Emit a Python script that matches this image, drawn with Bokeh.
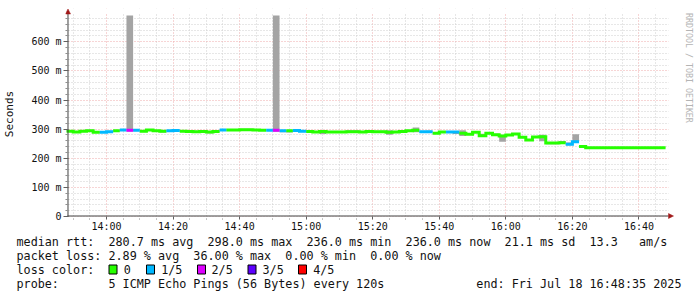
import math
from bokeh.plotting import figure
from bokeh.layouts import column, row
from bokeh.models import Range1d, FixedTicker
from bokeh.core.properties import value
from bokeh.embed import file_html
from bokeh.resources import INLINE

# ---------------- data ----------------
# x axis: minutes after midnight
range_start_min = 13 * 60 + 48 + 35 / 60.0   # 13:48:35
range_end_min = 16 * 60 + 48 + 35 / 60.0     # 16:48:35
x_tick_minutes = [840, 860, 880, 900, 920, 940, 960, 980, 1000]
x_tick_labels = ["14:00", "14:20", "14:40", "15:00", "15:20",
                 "15:40", "16:00", "16:20", "16:40"]
x_minor_minutes = [830, 835, 845, 850, 855, 865, 870, 875, 885, 890, 895,
                   905, 910, 915, 925, 930, 935, 945, 950, 955, 965, 970,
                   975, 985, 990, 995, 1005]
y_ticks = [0, 100, 200, 300, 400, 500, 600]
y_tick_labels = ["0", "100 m", "200 m", "300 m", "400 m", "500 m", "600 m"]
y_minor = [20, 40, 60, 80, 120, 140, 160, 180, 220, 240, 260, 280, 320, 340,
           360, 380, 420, 440, 460, 480, 520, 540, 560, 580, 620, 640, 660, 680]
y_top_ms = 697

first_step_min = 13 * 60 + 48    # first 2-minute step starts at 13:48
step_min = 2

median_ms = [293, 290, 293, 294, 289, 289, 291, 294, 297, 296,
             296, 293, 297, 294, 293, 294, 295, 293, 292, 291,
             292, 290, 292, 297, 297, 297, 298, 298, 297, 296,
             296, 296, 294, 294, 295, 293, 292, 290, 292, 290,
             290, 290, 291, 291, 290, 292, 291, 291, 289, 290,
             292, 294, 296, 291, 291, 286, 290, 290, 290, 286,
             282, 289, 277, 286, 281, 276, 280, 283, 272, 263,
             273, 274, 252, 252, 253, 248, 257, 240, 236, 236,
             236, 236, 236, 236, 236, 236, 236, 236, 236, 236]

loss_count = [0, 0, 0, 0, 0, 1, 1, 0, 1, 2,
              1, 0, 0, 0, 0, 1, 1, 0, 0, 0,
              0, 0, 0, 1, 0, 0, 0, 0, 0, 0,
              1, 2, 1, 0, 1, 1, 0, 0, 0, 0,
              0, 0, 0, 0, 0, 0, 0, 0, 0, 0,
              0, 0, 0, 1, 1, 0, 0, 1, 1, 0,
              0, 0, 0, 0, 0, 0, 0, 0, 0, 0,
              0, 0, 0, 0, 0, 1, 1, 0, 0, 0,
              0, 0, 0, 0, 0, 0, 0, 0, 0, 0]

smoke_lo = [291, 288, 291, 291, 287, 287, 289, 292, 295, 292,
            294, 291, 295, 292, 288, 292, 293, 291, 290, 289,
            288, 285, 290, 295, 295, 295, 296, 296, 295, 294,
            294, 291, 289, 288, 293, 291, 290, 288, 283, 288,
            288, 288, 289, 289, 288, 287, 289, 289, 281, 288,
            290, 292, 289, 288, 289, 284, 288, 288, 283, 276,
            280, 287, 274, 284, 276, 257, 276, 281, 270, 259,
            271, 258, 248, 248, 252, 245, 255, 238, 235, 235,
            235, 235, 235, 235, 235, 235, 235, 235, 235, 235]

smoke_hi = [296, 293, 296, 298, 292, 292, 294, 297, 300, 690,
            299, 296, 300, 297, 295, 297, 298, 296, 295, 294,
            296, 293, 295, 300, 300, 300, 301, 301, 300, 299,
            299, 690, 296, 296, 298, 296, 295, 293, 294, 293,
            293, 293, 296, 296, 293, 294, 294, 294, 296, 293,
            295, 297, 306, 293, 294, 289, 293, 293, 292, 296,
            285, 292, 284, 289, 284, 281, 283, 286, 275, 266,
            276, 281, 255, 255, 259, 254, 282, 243, 238, 238,
            238, 238, 238, 238, 238, 237, 237, 237, 237, 237]

loss_labels = ["0", "1/5", "2/5", "3/5", "4/5"]
loss_colors = ["#26ff00", "#00b8ff", "#dd00ff", "#5e00ff", "#ff0000"]

legend_line1 = ("median rtt:  280.7 ms avg  298.0 ms max  236.0 ms min  "
                "236.0 ms now  21.1 ms sd  13.3   am/s")
legend_line2 = "packet loss: 2.89 % avg  36.00 % max  0.00 % min  0.00 % now"
legend_line3 = "loss color:"
legend_line4 = "probe:       5 ICMP Echo Pings (56 Bytes) every 120s"
legend_end = "end: Fri Jul 18 16:48:35 2025"
watermark = "RRDTOOL / TOBI OETIKER"

# ---------------- layout constants (pixels) ----------------
W, H = 697, 297
TOP_H = 236            # height of the chart row
WM_W = 21              # watermark strip at the right
MAIN_W = W - WM_W
F_LEFT, F_RIGHT = 64, 674      # frame in canvas px (data area 67..667)
F_TOP, F_BOT = 8, 219          # frame in canvas px (data area 13..216)
AX_X, AX_Y = 67, 216           # where the time start / zero value sit
PXM = 600.0 / (range_end_min - range_start_min)     # px per minute
PXY = (AX_Y - 13) / float(y_top_ms)                 # px per ms

X_START = range_start_min - (AX_X - F_LEFT) / PXM
X_END = range_end_min + (F_RIGHT - (AX_X + 600)) / PXM
Y_START = -(F_BOT - AX_Y) / PXY
Y_END = (AX_Y - F_TOP) / PXY

MONO = "DejaVu Sans Mono"
TXT = "#111111"
AXIS_COL = "#404040"
ARROW_COL = "#a01818"
NBSP = "\u00a0"


def keep_spaces(s):
    return s.replace(" ", NBSP)


def dx(px):
    return X_START + (px - F_LEFT) / PXM


def dy(py):
    return Y_START + (F_BOT - py) / PXY


# ---------------- main chart ----------------
p = figure(width=MAIN_W, height=TOP_H, output_backend="svg",
           toolbar_location=None, title=None,
           x_range=Range1d(X_START, X_END), y_range=Range1d(Y_START, Y_END),
           min_border_left=F_LEFT, min_border_right=MAIN_W - F_RIGHT,
           min_border_top=F_TOP, min_border_bottom=TOP_H - F_BOT)
p.background_fill_color = "white"
p.border_fill_color = "white"
p.outline_line_color = None

p.xaxis.ticker = FixedTicker(ticks=x_tick_minutes, minor_ticks=x_minor_minutes)
p.yaxis.ticker = FixedTicker(ticks=y_ticks, minor_ticks=y_minor)
p.xaxis.major_label_overrides = dict(zip(x_tick_minutes, x_tick_labels))
p.yaxis.major_label_overrides = dict(zip(y_ticks, y_tick_labels))

for ax in (p.xaxis, p.yaxis):
    ax.axis_line_color = None
    ax.major_tick_line_color = "#606060"
    ax.minor_tick_line_color = "#909090"
    ax.major_label_text_font = MONO
    ax.major_label_text_font_size = "10px"
    ax.major_label_text_color = TXT
p.xaxis.major_tick_out = 0
p.xaxis.major_tick_in = 3
p.xaxis.minor_tick_out = 0
p.xaxis.minor_tick_in = 1
p.xaxis.major_label_standoff = 1
p.yaxis.major_tick_out = 2
p.yaxis.major_tick_in = 3
p.yaxis.minor_tick_out = 0
p.yaxis.minor_tick_in = 3
p.yaxis.major_label_standoff = 2
p.yaxis.axis_label = "Seconds"
p.yaxis.axis_label_text_font = MONO
p.yaxis.axis_label_text_font_size = "11px"
p.yaxis.axis_label_text_font_style = "normal"
p.yaxis.axis_label_text_color = TXT
p.yaxis.axis_label_standoff = 12

for g in (p.xgrid, p.ygrid):
    g.grid_line_color = "#eeaaaa"
    g.grid_line_dash = "1 2"
    g.grid_line_width = 1
    g.minor_grid_line_color = "#cfcfcf"
    g.minor_grid_line_dash = "1 2"
    g.minor_grid_line_width = 1

# white margins so that the grid stays inside the data area
p.quad(left=[X_START, X_START, dx(668), X_START],
       right=[X_END, dx(66.5), X_END, X_END],
       bottom=[dy(13), Y_START, Y_START, Y_START],
       top=[Y_END, Y_END, Y_END, dy(216)],
       fill_color="white", line_color=None)

# smoke
n = len(median_ms)
x0 = [first_step_min + step_min * k for k in range(n)]
x1 = [v + step_min for v in x0]
p.quad(left=x0, right=x1, bottom=smoke_lo, top=smoke_hi,
       fill_color="#a4a4a4", line_color=None)

# median, coloured by loss
for lvl, col in enumerate(loss_colors):
    xs, ys = [], []
    prev = None
    for k in range(n):
        if loss_count[k] == lvl:
            if prev is not None and prev == k - 1:
                xs.append(x0[k]); ys.append(median_ms[k])
            else:
                if xs:
                    xs.append(float("nan")); ys.append(float("nan"))
                xs.append(x0[k]); ys.append(median_ms[k])
            xs.append(x1[k]); ys.append(median_ms[k])
            prev = k
    if xs:
        p.line(xs, ys, line_color=col, line_width=3, line_join="miter")

# axis lines with arrow heads (RRDtool style)
p.line([dx(66.5), dx(66.5)], [dy(216), dy(13)], line_color=AXIS_COL,
       line_width=1)
p.line([dx(66), dx(668)], [dy(215.5), dy(215.5)], line_color=AXIS_COL,
       line_width=1)
p.patches(xs=[[dx(64), dx(69), dx(66.5)], [dx(668), dx(668), dx(673)]],
          ys=[[dy(13.5), dy(13.5), dy(8.5)], [dy(213), dy(218), dy(215.5)]],
          fill_color=ARROW_COL, line_color=ARROW_COL, line_width=0.5)


def blank(width, height):
    f = figure(width=width, height=height, output_backend="svg",
               toolbar_location=None, title=None,
               x_range=Range1d(0, width), y_range=Range1d(height, 0),
               x_axis_location=None, y_axis_location=None,
               min_border=0, min_border_left=0, min_border_right=0,
               min_border_top=0, min_border_bottom=0)
    f.outline_line_color = None
    f.background_fill_color = "white"
    f.border_fill_color = "white"
    f.xgrid.visible = False
    f.ygrid.visible = False
    return f


# ---------------- watermark strip ----------------
wm = blank(WM_W, TOP_H)
wm.text(x=[688 - MAIN_W], y=[5], text=[keep_spaces(watermark)],
        angle=-math.pi / 2, text_font=value(MONO), text_font_size="8.3px",
        text_color="#b4b4b4", text_align="left", text_baseline="middle")

# ---------------- legend area ----------------
LH = H - TOP_H
lg = blank(W, LH)
oy = TOP_H
lines_x = [16, 16, 16, 16]
lines_y = [241.7 - oy, 255.3 - oy, 269.3 - oy, 283.3 - oy]
lines_t = [keep_spaces(t) for t in
           (legend_line1, legend_line2, legend_line3, legend_line4)]
lg.text(x=lines_x, y=lines_y, text=lines_t, text_font=value(MONO),
        text_font_size="11.75px", text_color=TXT, text_align="left",
        text_baseline="middle")
lg.text(x=[681], y=[283.3 - oy], text=[keep_spaces(legend_end)],
        text_font=value(MONO), text_font_size="11.75px", text_color=TXT,
        text_align="right", text_baseline="middle")

box_x = [108.5, 146.0, 197.0, 247.5, 298.0]
text_x = [123.3, 160.7, 211.0, 262.0, 312.7]
lg.quad(left=box_x, right=[b + 8 for b in box_x],
        top=[264.5 - oy] * 5, bottom=[273.5 - oy] * 5,
        fill_color=loss_colors, line_color="#000000", line_width=1)
lg.text(x=text_x, y=[269.3 - oy] * 5, text=loss_labels, text_font=value(MONO),
        text_font_size="11.75px", text_color=TXT, text_align="left",
        text_baseline="middle")

page = column(row(p, wm, spacing=0), lg, spacing=0)
open("out.html", "w").write(file_html(page, INLINE))
